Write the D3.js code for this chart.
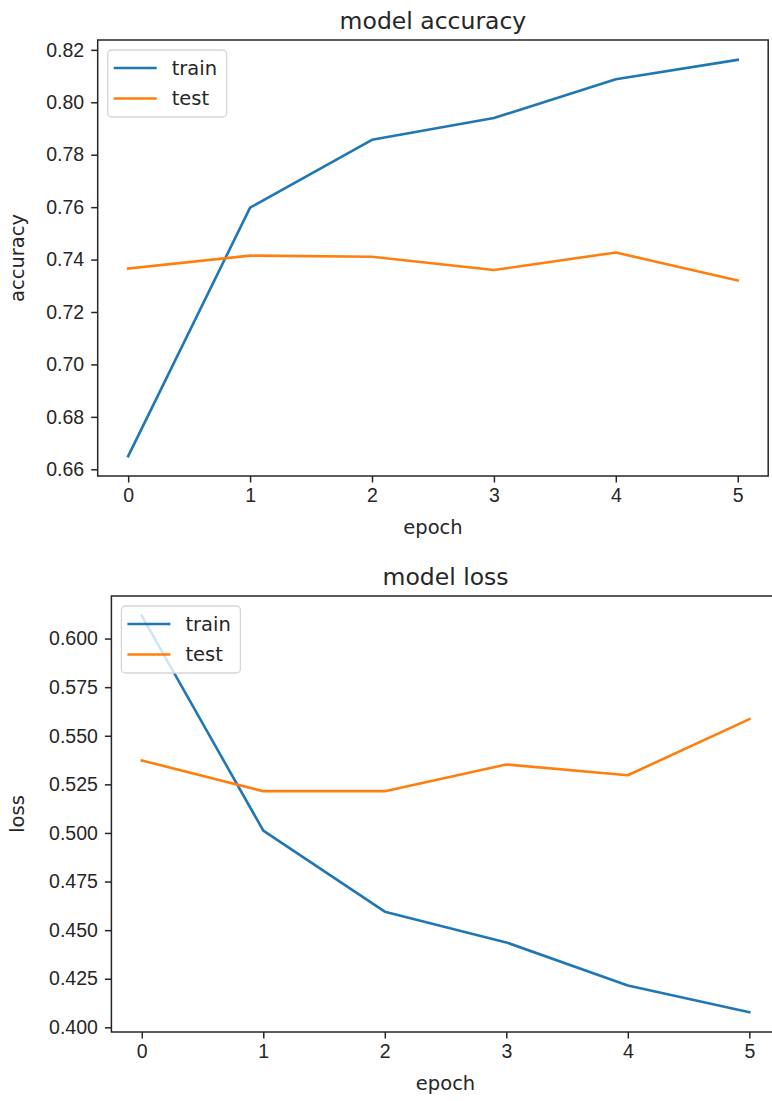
<!DOCTYPE html>
<html lang="en">
<head>
<meta charset="utf-8">
<title>model accuracy / model loss</title>
<script src="https://cdn.jsdelivr.net/npm/d3@7"></script>
<style>
    body { margin: 0; background: #fff; }
    svg { display: block; font-family: "DejaVu Sans", sans-serif; }
    .axis text { font-size: 19.5px; fill: #262626; }
    .axis line, .axis path { stroke: #262626; }
    .spine { fill: none; stroke: #262626; stroke-width: 1.5px; }
    .title { font-size: 23.5px; fill: #262626; }
    .label { font-size: 19.5px; fill: #262626; }
    .legend text { font-size: 19.5px; fill: #262626; }
</style>
</head>
<body>
<script>

var epochs = [0, 1, 2, 3, 4, 5];

var accTrain = [0.665, 0.7598, 0.7857, 0.7940, 0.8088, 0.8162];
var accTest  = [0.7366, 0.7415, 0.7411, 0.7360, 0.7427, 0.7320];
var accTicks = [0.66, 0.68, 0.70, 0.72, 0.74, 0.76, 0.78, 0.80, 0.82];

var lossTrain = [0.6117, 0.5012, 0.4595, 0.4437, 0.4215, 0.4078];
var lossTest  = [0.5373, 0.5215, 0.5215, 0.5352, 0.5297, 0.5585];
var lossTicks = [0.400, 0.425, 0.450, 0.475, 0.500, 0.525, 0.550, 0.575, 0.600];

var seriesNames = ['train', 'test'];
var colors = ['#1f77b4', '#ff7f0e'];

var W = 772, H = 1101;

var svg = d3.select('body').append('svg')
    .attr('width', W)
    .attr('height', H);

function panel(box, title, ylabel, train, test, ticks, fmt) {
    var all = train.concat(test);
    var lo = d3.min(all), hi = d3.max(all), pad = (hi - lo) * 0.05;

    var x = d3.scaleLinear()
        .domain([-0.25, 5.25])
        .range([box.left, box.right]);
    var y = d3.scaleLinear()
        .domain([lo - pad, hi + pad])
        .range([box.bottom, box.top]);

    var g = svg.append('g');

    g.append('g')
        .attr('class', 'axis')
        .attr('transform', 'translate(0,' + box.bottom + ')')
        .call(d3.axisBottom(x).tickValues(epochs).tickSize(6.5).tickPadding(6)
            .tickFormat(d3.format('d')))
        .call(function(a){ a.select('.domain').remove(); })
        .selectAll('line').attr('stroke-width', 1.5);

    g.append('g')
        .attr('class', 'axis')
        .attr('transform', 'translate(' + box.left + ',0)')
        .call(d3.axisLeft(y).tickValues(ticks).tickSize(6.5).tickPadding(7)
            .tickFormat(d3.format(fmt)))
        .call(function(a){ a.select('.domain').remove(); })
        .selectAll('line').attr('stroke-width', 1.5);

    var line = d3.line()
        .x(function(d, i){ return x(epochs[i]); })
        .y(function(d){ return y(d); });

    [train, test].forEach(function(s, k){
        g.append('path')
            .datum(s)
            .attr('fill', 'none')
            .attr('stroke', colors[k])
            .attr('stroke-width', 2.6)
            .attr('stroke-linejoin', 'round')
            .attr('stroke-linecap', 'square')
            .attr('d', line);
    });

    g.append('rect')
        .attr('class', 'spine')
        .attr('x', box.left)
        .attr('y', box.top)
        .attr('width', box.right - box.left)
        .attr('height', box.bottom - box.top);

    g.append('text')
        .attr('class', 'title')
        .attr('x', (box.left + box.right) / 2)
        .attr('y', box.top - 11)
        .attr('text-anchor', 'middle')
        .text(title);

    g.append('text')
        .attr('class', 'label')
        .attr('x', (box.left + box.right) / 2)
        .attr('y', box.bottom + 58)
        .attr('text-anchor', 'middle')
        .text('epoch');

    g.append('text')
        .attr('class', 'label')
        .attr('transform', 'translate(' + 24 + ',' + (box.top + box.bottom) / 2 + ') rotate(-90)')
        .attr('text-anchor', 'middle')
        .text(ylabel);

    // legend, upper left
    var lg = g.append('g').attr('class', 'legend');
    var lx = box.left + 10, ly = box.top + 10;
    lg.append('rect')
        .attr('x', lx)
        .attr('y', ly)
        .attr('width', 119)
        .attr('height', 67)
        .attr('rx', 4)
        .attr('fill', 'white')
        .attr('fill-opacity', 0.8)
        .attr('stroke', '#d6d6d6')
        .attr('stroke-width', 1.3);
    seriesNames.forEach(function(name, k){
        var yy = ly + 18 + k * 30.5;
        lg.append('line')
            .attr('x1', lx + 6)
            .attr('x2', lx + 49)
            .attr('y1', yy)
            .attr('y2', yy)
            .attr('stroke', colors[k])
            .attr('stroke-width', 2.6);
        lg.append('text')
            .attr('x', lx + 64)
            .attr('y', yy)
            .attr('dy', '0.35em')
            .text(name);
    });
}

panel({left: 97.7, right: 768.2, top: 40, bottom: 476},
    'model accuracy', 'accuracy', accTrain, accTest, accTicks, '.2f');

panel({left: 111.4, right: 779.7, top: 596, bottom: 1032},
    'model loss', 'loss', lossTrain, lossTest, lossTicks, '.3f');

</script>
</body>
</html>
